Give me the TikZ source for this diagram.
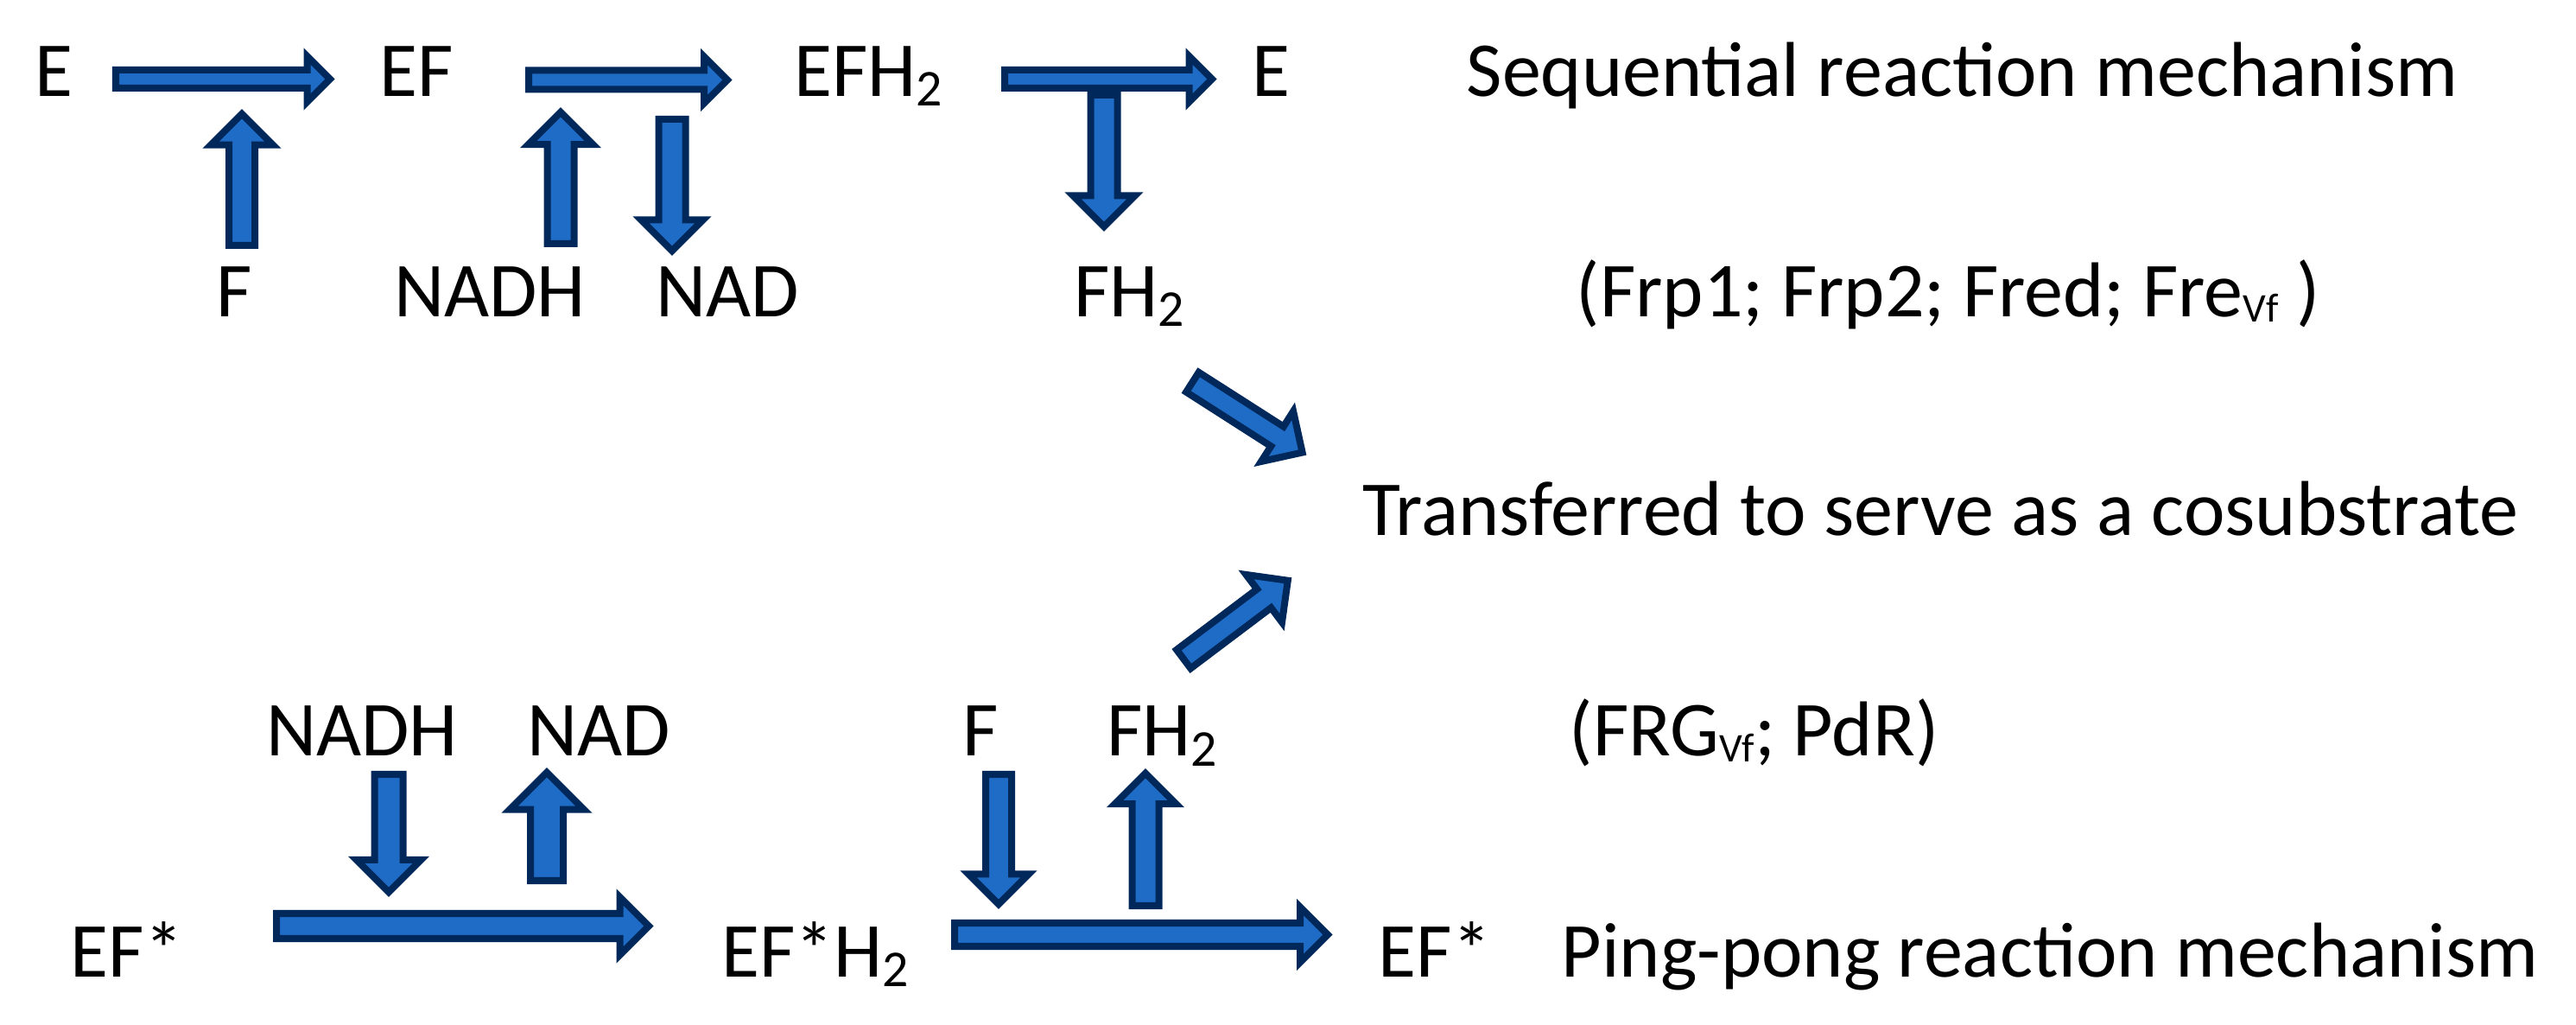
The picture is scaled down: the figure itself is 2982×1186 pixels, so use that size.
\documentclass[tikz,border=0pt]{standalone}
\usepackage{fontspec}
\setmainfont{Carlito}
\usepackage{tikz}
\usetikzlibrary{positioning}
\definecolor{arrowblue}{HTML}{1F6CC6}
\definecolor{arrownavy}{HTML}{00285A}
\newcommand\sbtwo{\raisebox{-0.11cm}{\fontsize{17pt}{17pt}\selectfont 2}}
\newcommand\sbvf{\raisebox{-0.06cm}{\fontsize{13.4pt}{13.4pt}\selectfont Vf}}
% block arrow: tail, angle, length, shaft half width, head half width
\newcommand\blockarrow[5]{%
  \begin{scope}[shift={(#1)},rotate=#2]
    \draw[barrow] (0,-#4) -- ({#3-#5},-#4) -- ({#3-#5},-#5) -- (#3,0)
      -- ({#3-#5},#5) -- ({#3-#5},#4) -- (0,#4) -- cycle;
  \end{scope}}

\begin{document}
\begin{tikzpicture}[x=0.01cm,y=-0.01cm,
  chem/.style={inner sep=0pt,anchor=base,
  font=\fontsize{25.6pt}{30pt}\selectfont},
  caption/.style={chem,anchor=base west},
  barrow/.style={draw=arrownavy,fill=arrowblue,line width=0.08cm,line join=miter}]
  \useasboundingbox (0,0) rectangle (2982,1186);

  % sequential mechanism
  \node[chem] (E1) at (62,112) [] {E};
  \node[chem] (EF) at (482,112) [] {EF};
  \node[chem] (EFH2) at (1005,112) [] {EFH\sbtwo};
  \node[chem] (E2) at (1471,112) [] {E};
  \node[caption] (SEQ) at (1697,112) [] {Sequential reaction mechanism};
  \node[chem] (F1) at (271,367) [] {F};
  \node[chem] (NADH1) at (567,367) [] {NADH};
  \node[chem] (NAD1) at (842,367) [] {NAD};
  \node[chem] (FH1) at (1307,367) [] {FH\sbtwo};
  \node[caption] (FRP) at (1824,367) [] {(Frp1; Frp2; Fred; Fre\sbvf\ )};

  \node[caption] (TRANS) at (1577,620) [] {Transferred to serve as a cosubstrate};

  % ping-pong mechanism
  \node[chem] (NADH2) at (419,875) [] {NADH};
  \node[chem] (NAD2) at (693,875) [] {NAD};
  \node[chem] (F2) at (1135,875) [] {F};
  \node[chem] (FH2) at (1345,875) [] {FH\sbtwo};
  \node[caption] (FRG) at (1816,875) [] {(FRG\sbvf; PdR)};
  \node[chem] (EFS1) at (147,1130) [] {EF*};
  \node[chem] (EFSH2) at (944,1130) [] {EF*H\sbtwo};
  \node[chem] (EFS2) at (1661,1130) [] {EF*};
  \node[caption] (PING) at (1807,1130) [] {Ping-pong reaction mechanism};

  % arrow tails
  \coordinate (A1) at (134,91.5);
  \coordinate (A2) at (612,92.5);
  \coordinate (A3) at (1163,91.5);
  \coordinate (AF1) at (280,284);
  \coordinate (ANADH1) at (649,282);
  \coordinate (ANAD1) at (778,138);
  \coordinate (AFH1) at (1278,110);
  \coordinate (ADR) at (1380.4,442.2);
  \coordinate (AUR) at (1370.2,762.6);
  \coordinate (B1) at (320,1071.5);
  \coordinate (B2) at (1105,1081.5);
  \coordinate (ANADH2) at (450,896);
  \coordinate (ANAD2) at (633,1019);
  \coordinate (AF2) at (1156,896);
  \coordinate (AFH2) at (1326,1048);

  \blockarrow{A1}{0}{248}{10.5}{26.5}
  \blockarrow{A2}{0}{230}{11}{27}
  \blockarrow{A3}{0}{240}{10.5}{26.5}
  \blockarrow{AF1}{90}{152.3}{15}{36}
  \blockarrow{ANADH1}{90}{152.3}{15.5}{37.5}
  \blockarrow{ANAD1}{-90}{152.3}{15.5}{36}
  \blockarrow{AFH1}{-90}{152.3}{15.5}{36}
  \blockarrow{ADR}{-32.6}{151}{13.5}{34.5}
  \blockarrow{AUR}{37}{151}{13.5}{34.5}
  \blockarrow{B1}{0}{431}{14.5}{33.5}
  \blockarrow{B2}{0}{432}{13.5}{32}
  \blockarrow{ANADH2}{-90}{136.3}{16.5}{37.5}
  \blockarrow{ANAD2}{90}{125.3}{19}{43}
  \blockarrow{AF2}{-90}{150.3}{15}{35}
  \blockarrow{AFH2}{90}{153.3}{15.5}{35.5}
\end{tikzpicture}
\end{document}
